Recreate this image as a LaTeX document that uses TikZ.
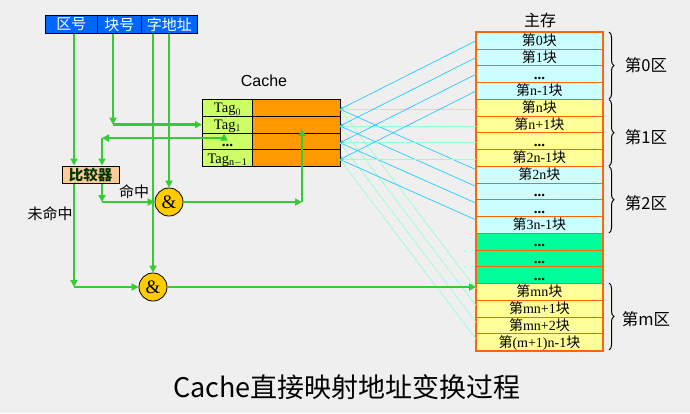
\documentclass[tikz,border=0pt]{standalone}
\usepackage{fontspec}
\setmainfont{Liberation Serif}
\newfontfamily\cjk{Noto Sans CJK SC}
\newfontfamily\lsans{Liberation Sans}
\usetikzlibrary{arrows.meta,decorations.pathreplacing,calc}
\definecolor{bgGray}{HTML}{EFEFEF}
\definecolor{barBlue}{HTML}{0066FF}
\definecolor{tagGreen}{HTML}{CCFF66}
\definecolor{dataOrange}{HTML}{FF9900}
\definecolor{cmpFill}{HTML}{FFCC99}
\definecolor{cmpText}{HTML}{003300}
\definecolor{gateYellow}{HTML}{FFCC00}
\definecolor{lineGreen}{HTML}{33CC33}
\definecolor{memC}{HTML}{CCFFFF}
\definecolor{memY}{HTML}{FFFF99}
\definecolor{memG}{HTML}{00FF99}
\definecolor{memBorder}{HTML}{FF6600}
\definecolor{cyanLine}{HTML}{22CCFF}
\definecolor{mintLine}{HTML}{99FFCC}
\newcommand\blk[1]{{\cjk 第}#1{\cjk 块}}
\newcommand\mdots{\textbf{\fontsize{15}{15}\selectfont ...}}
\begin{document}
\begin{tikzpicture}[x=1pt,y=-1pt,
  gl/.style={draw=lineGreen,line width=2.6pt},
  arr/.style={-{Triangle[length=7pt,width=7pt]}},
  barcell/.style={draw=black,line width=0.8pt,fill=barBlue,text=white,font=\cjk\fontsize{15}{16}\selectfont,minimum height=18pt,inner sep=0pt,anchor=north west},
  tagcell/.style={draw=black,line width=1pt,fill=tagGreen,minimum width=50pt,minimum height=16.75pt,inner sep=0pt,anchor=north west,font=\fontsize{14.5}{15}\selectfont,text height=11pt,text depth=1pt},
  datacell/.style={draw=black,line width=1pt,fill=dataOrange,minimum width=88pt,minimum height=16.75pt,inner sep=0pt,anchor=north west},
  memrow/.style={draw=memBorder,line width=0.8pt,minimum width=126pt,minimum height=16.74pt,inner sep=0pt,anchor=north west,font=\fontsize{14}{14}\selectfont,text height=11pt,text depth=1pt},
  gate/.style={circle,draw=black,line width=0.8pt,fill=gateYellow,minimum size=28pt,inner sep=0pt,font=\fontsize{19}{20}\selectfont},
  maplineC/.style={draw=cyanLine,line width=0.7pt},
  maplineM/.style={draw=mintLine,line width=0.7pt},
  zonebrace/.style={draw=black,line width=1pt,decorate,decoration={brace,amplitude=5pt}},
  zonelabel/.style={font=\cjk\fontsize{16.5}{18}\selectfont}
]
\useasboundingbox (0,0) rectangle (690,413);
\fill[bgGray] (0,0) rectangle (690,413);

% address bar
\node[barcell,minimum width=52pt] (a1) at (45,15) {区号};
\node[barcell,minimum width=44pt] (a2) at (97,15) {块号};
\node[barcell,minimum width=56pt] (a3) at (141,15) {字地址};

% labels
\node[font=\lsans\fontsize{16}{18}\selectfont] (cachelbl) at (264,81) {Cache};
\node[font=\cjk\fontsize{16}{18}\selectfont] (mainlbl) at (540,20) {主存};

% main memory rows
\foreach \i/\c/\t in {0/memC/{\blk{0}},1/memC/{\blk{1}},2/memC/{\mdots},3/memC/{\blk{n-1}},
  4/memY/{\blk{n}},5/memY/{\blk{n+1}},6/memY/{\mdots},7/memY/{\blk{2n-1}},
  8/memC/{\blk{2n}},9/memC/{\mdots},10/memC/{\mdots},11/memC/{\blk{3n-1}},
  12/memG/{\mdots},13/memG/{\mdots},14/memG/{\mdots},
  15/memY/{\blk{mn}},16/memY/{\blk{mn+1}},17/memY/{\blk{mn+2}},18/memY/{\blk{(m+1)n-1}}}
  {\node[memrow,fill=\c] (m\i) at (476,{32+\i*16.74}) {\t};}
\draw[memBorder,line width=2.2pt] (m0.north west) rectangle (m18.south east);

% cache
\foreach \i/\t in {0/{Tag$_0$},1/{Tag$_1$},2/{\mdots},3/{Tag$_{\mathrm{n-1}}$}}{
  \node[tagcell] (t\i) at (202,{99+\i*16.75}) {\t};
  \node[datacell] (d\i) at (252,{99+\i*16.75}) {};
}

% mapping lines
\foreach \i in {0,1,2,3}{
  \coordinate (o\i) at (340,{99+(\i+1)*16.75-6.5});
  \pgfmathtruncatemacro{\zb}{8+\i}
  \pgfmathtruncatemacro{\zm}{15+\i}
  \draw[maplineM] (o\i) -- (o\i -| m0.west);
  \draw[maplineM] (o\i) -- ([yshift=3pt]m\zm.west);
  \draw[maplineC,{Stealth[length=3.5pt,width=3.5pt]}-] (o\i) -- (m\i.west);
  \draw[maplineC] (o\i) -- ([yshift=5pt]m\zb.west);
}

% comparator and gates
\node[draw=black,line width=1pt,fill=cmpFill,text=cmpText,minimum width=57pt,minimum height=17pt,inner sep=0pt,font=\cjk\bfseries\fontsize{14.5}{16}\selectfont] (cmp) at (90.5,174.5) {比较器};
\node[gate] (g1) at (169,202) {\&};
\node[gate] (g2) at (153,287) {\&};

\coordinate (xA) at (74,0);
\coordinate (xB) at (102,0);
\coordinate (xK) at (113,0);
\coordinate (bT) at (224,138);
\coordinate (dIn) at (302,129);

\draw[gl,arr] (a1.south -| xA) -- (cmp.north -| xA);
\draw[gl,arr] (a2.south -| xK) -- (xK |- t1.west);
\draw[gl,arr] (xK |- t1.west) -- (t1.west);
\draw[gl,arr] (bT) -- (t1.south -| bT);
\draw[gl,arr] (bT) -- (bT -| xB);
\draw[gl,arr] (bT -| xB) -- (cmp.north -| xB);
\draw[gl,arr] (a3.south -| g1) -- (g1.north);
\draw[gl,arr] (a3.south -| g2) -- (g2.north);
\draw[gl,arr] (cmp.south -| xB) -- (g1.west -| xB);
\draw[gl,arr] (g1.west -| xB) -- (g1.west);
\draw[gl,arr] (cmp.south -| xA) -- (g2.west -| xA);
\draw[gl,arr] (g2.west -| xA) -- (g2.west);
\draw[gl,arr] (g1.east) -- (g1.east -| dIn);
\draw[gl,arr] (g1.east -| dIn) -- (dIn);
\draw[gl,arr] (g2.east) -- (g2.east -| m15.west);

\node[font=\cjk\fontsize{15}{17}\selectfont] (hit) at (134,192) {命中};
\node[font=\cjk\fontsize{15}{17}\selectfont] (miss) at (50,214) {未命中};

% braces
\draw[zonebrace] (609,32) -- (609,99);
\draw[zonebrace] (609,99.5) -- (609,166);
\draw[zonebrace] (609,166.5) -- (609,233);
\draw[zonebrace] (609,283) -- (609,350);
\node[zonelabel] (z0) at (646,65) {第0区};
\node[zonelabel] (z1) at (646,137) {第1区};
\node[zonelabel] (z2) at (646,203) {第2区};
\node[zonelabel] (zm) at (646,319) {第m区};

\node[font=\cjk\fontsize{27}{30}\selectfont] (title) at (347,387) {Cache直接映射地址变换过程};
\end{tikzpicture}
\end{document}
